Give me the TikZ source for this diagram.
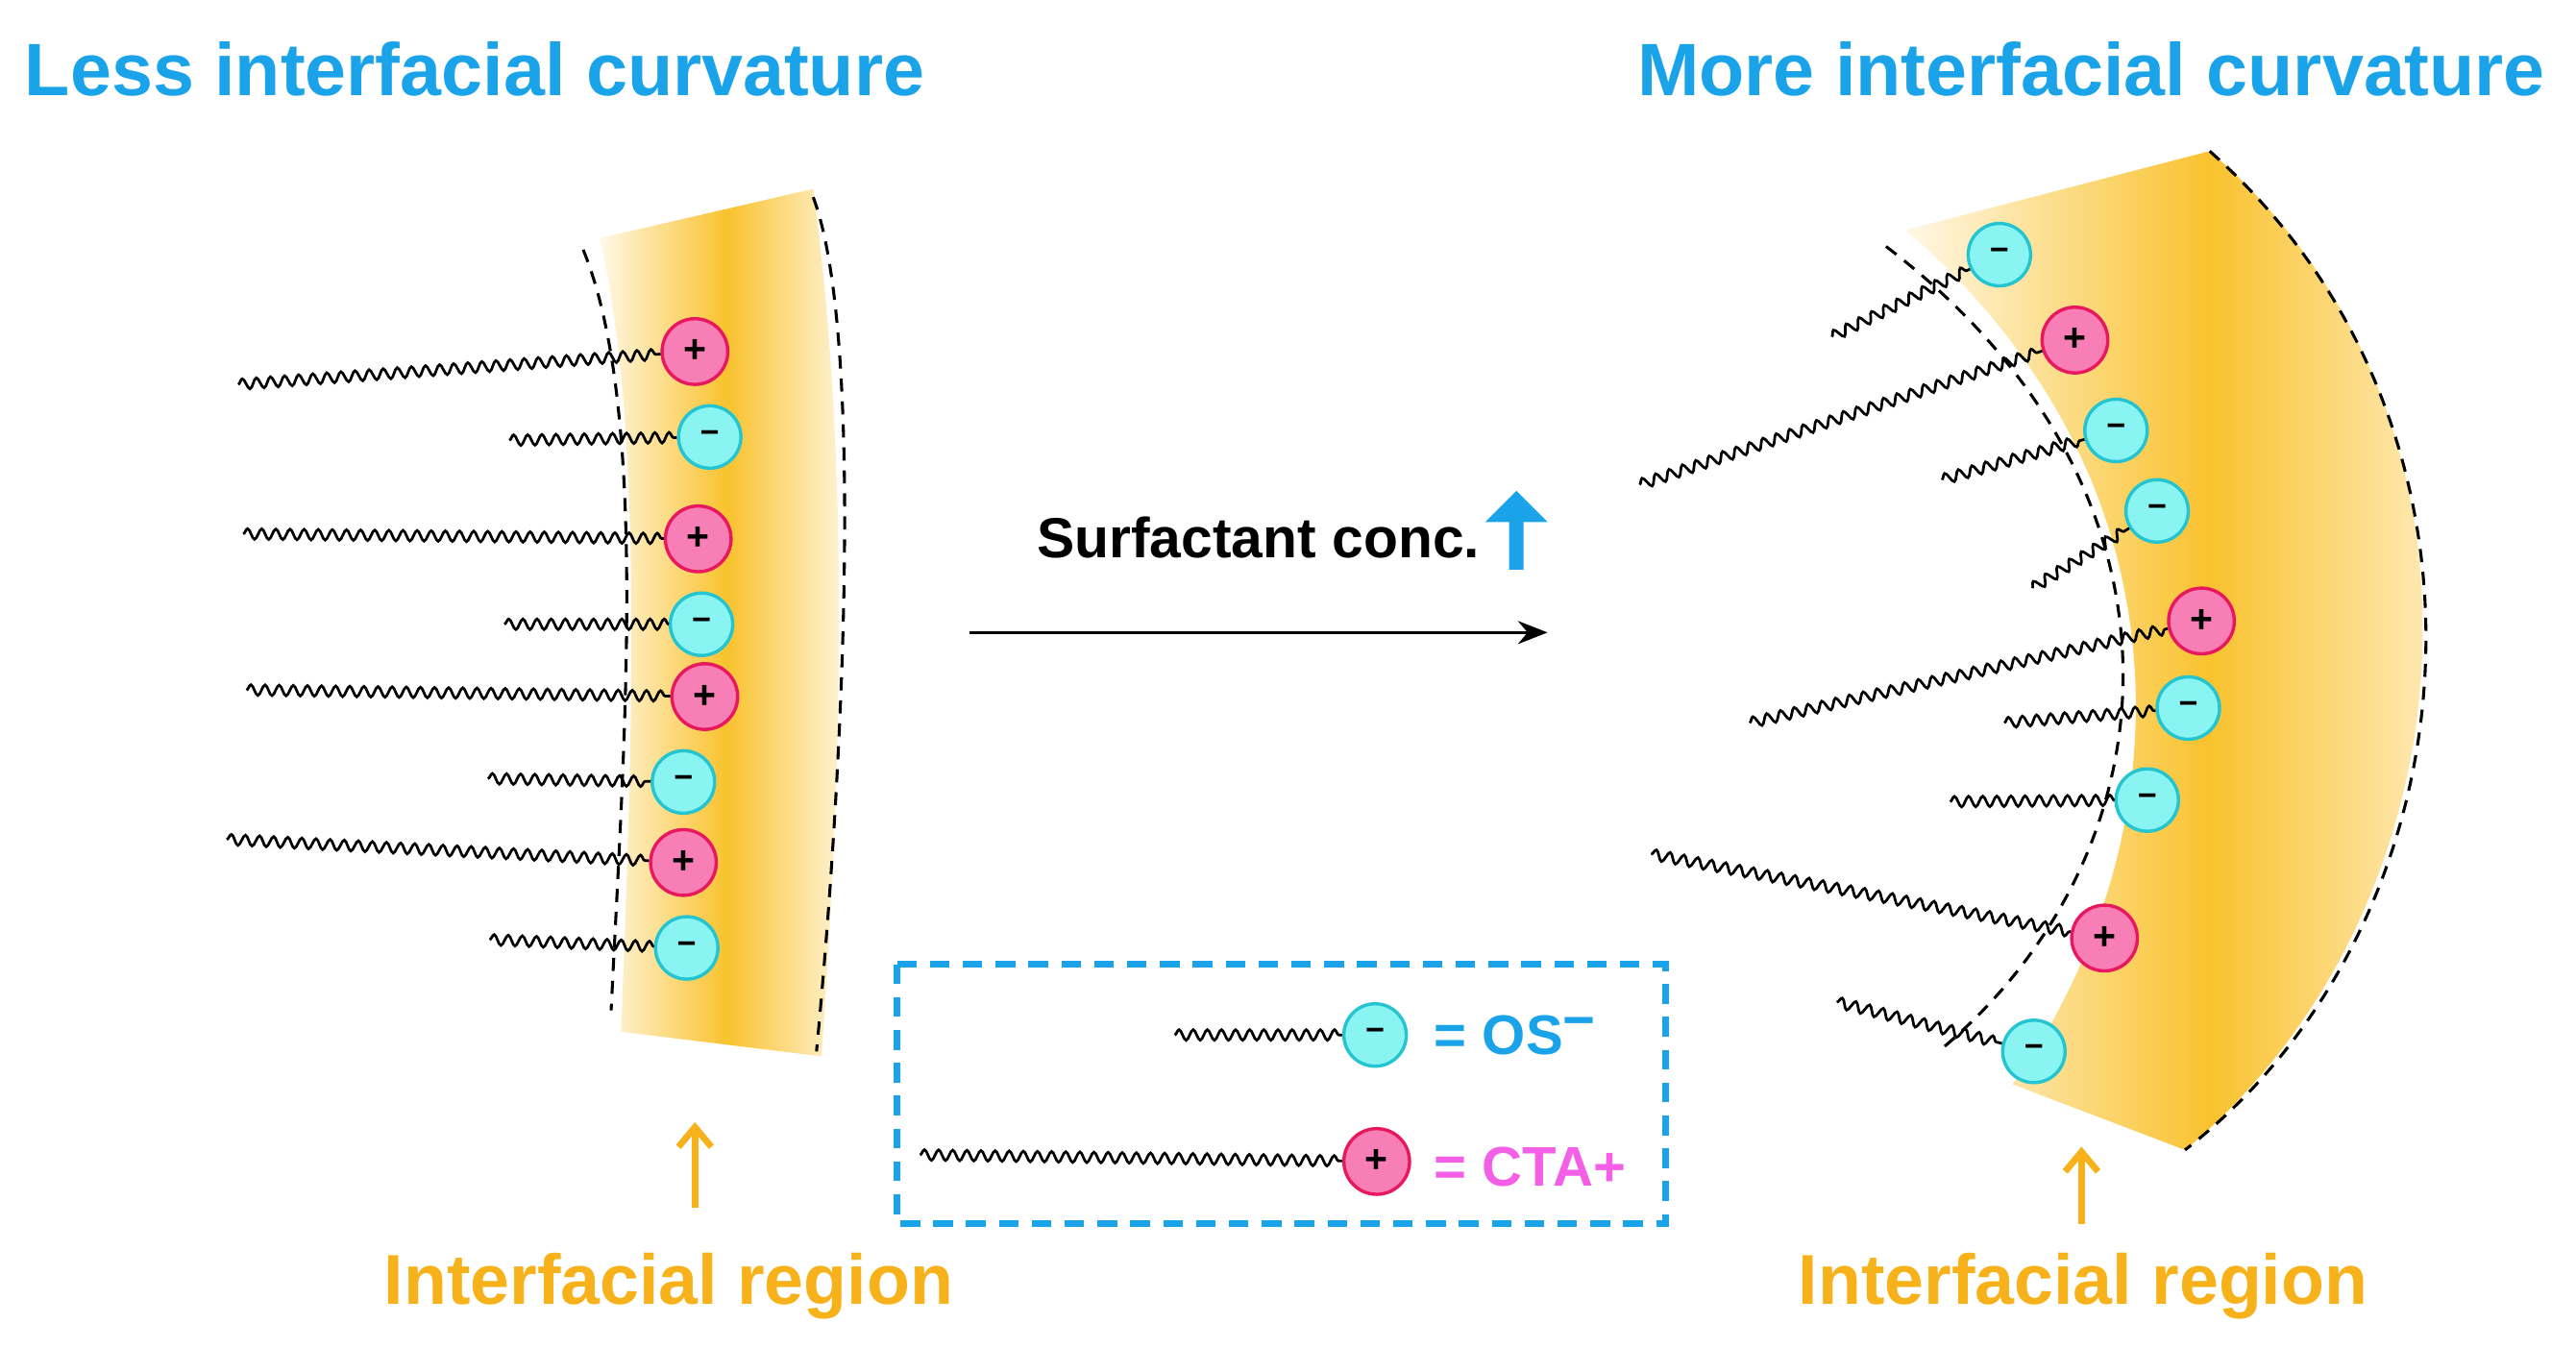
\documentclass[tikz,border=0pt]{standalone}
\usepackage{fontspec}
\setmainfont{Liberation Sans}
\usetikzlibrary{decorations.pathmorphing,arrows.meta,shapes.arrows}
\definecolor{tblue}{HTML}{1AA3E8}
\definecolor{gold}{HTML}{F9C22E}
\definecolor{pale}{HTML}{FFF8E6}
\definecolor{torange}{HTML}{F7B21B}
\definecolor{pinkf}{HTML}{F77FB6}
\definecolor{pinkd}{HTML}{E8185F}
\definecolor{cyanf}{HTML}{8AF4F2}
\definecolor{cyand}{HTML}{24C4D0}
\definecolor{ctam}{HTML}{F45FE8}
\pgfdeclarehorizontalshading{band}{100bp}{color(0bp)=(pale); color(25bp)=(pale); color(50bp)=(gold); color(75bp)=(pale); color(100bp)=(pale)}
\begin{document}
\begin{tikzpicture}[x=0.5pt,y=-0.5pt,
 ionp/.style={circle,draw=pinkd,fill=pinkf,line width=1pt,minimum size=20pt,inner sep=0pt,font=\bfseries\large,text=black},
 ionn/.style={circle,draw=cyand,fill=cyanf,line width=1pt,minimum size=19pt,inner sep=0pt,font=\bfseries\large,text=black},
 tail/.style={decorate,decoration={snake,segment length=4.3pt,amplitude=1.6pt},line width=0.8pt},
 dsh/.style={line width=0.9pt,dash pattern=on 4pt off 3pt},
 title/.style={text=tblue,font=\bfseries\fontsize{22.6}{26}\selectfont},
 reg/.style={text=torange,font=\bfseries\fontsize{21.5}{25}\selectfont}]
\useasboundingbox (0,0) rectangle (1568,820);
% left band
\shade[shading=band]
 (365,145) -- (495,115) .. controls (520,300) and (510,500) .. (500,643)
 -- (378,628) .. controls (385,450) and (392,260) .. (365,145) -- cycle;
\draw[dsh] (355,152) .. controls (395,250) and (380,450) .. (372,615);
\draw[dsh] (495,120) .. controls (525,200) and (515,450) .. (497,640);
% right band
\shade[shading=band]
 (1160,140) -- (1345,92) .. controls (1530,250) and (1510,550) .. (1330,700)
 -- (1225,660) .. controls (1325,520) and (1345,300) .. (1160,140) -- cycle;
\draw[dsh] (1148,150) .. controls (1345,300) and (1325,520) .. (1180,640);
\draw[dsh] (1345,92) .. controls (1535,260) and (1510,560) .. (1330,700);
% ions with tails
\foreach \n/\t/\x/\y/\tx/\ty in {a/ionp/423/214/145/234, b/ionn/432/266/310/268, c/ionp/425/328/148/325, d/ionn/427/380/307/380, e/ionp/429/424/150/420, f/ionn/416/476/297/474, g/ionp/416/525/138/511, h/ionn/418/577/298/572,
 ra/ionn/1217/155/1115/205, rb/ionp/1263/207/998/295, rc/ionn/1288/262/1182/292, rd/ionn/1313/311/1237/358, re/ionp/1340/378/1065/440, rf/ionn/1332/431/1220/440, rg/ionn/1307/487/1187/488, rh/ionp/1281/571/1005/520, ri/ionn/1238/640/1118/610,
 la/ionn/837/630/715/630, lb/ionp/838/707/560/703}{
 \coordinate (t\n) at (\tx,\ty);
 \node[\t] (\n) at (\x,\y) {};
 \draw[tail] (t\n) -- (\n);
}
\foreach \n in {a,c,e,g,rb,re,rh,lb}{\node[font=\bfseries\large] at (\n) {+};}
\foreach \n in {b,d,f,h,ra,rc,rd,rf,rg,ri,la}{\node[font=\bfseries] at (\n) {−};}
% titles
\node[title] (t1) at (289,42) {Less interfacial curvature};
\node[title] (t2) at (1273,42) {More interfacial curvature};
% main arrow
\coordinate (m1) at (590,385); \coordinate (m2) at (942,385);
\draw[-{Stealth[length=9pt,width=7pt]},line width=1pt] (m1) -- (m2);
\node[font=\bfseries\fontsize{17.2}{20}\selectfont] (sc) at (766,327) {Surfactant conc.};
\node[single arrow,fill=tblue,draw=none,shape border rotate=90,minimum height=24pt,minimum width=19pt,single arrow head extend=4pt,inner sep=1pt] (ua) at (923,325) {};
% region labels
\node[reg] (r1) at (407,783) {Interfacial region};
\node[reg] (r2) at (1268,783) {Interfacial region};
\coordinate (o1) at (423,735); \coordinate (o1e) at (423,683);
\coordinate (o2) at (1267,745); \coordinate (o2e) at (1267,698);
\draw[torange,line width=2pt,-{Straight Barb[length=6pt,width=10pt]}] (o1) -- (o1e);
\draw[torange,line width=2pt,-{Straight Barb[length=6pt,width=10pt]}] (o2) -- (o2e);
% legend
\draw[tblue,line width=2pt,dash pattern=on 6pt off 4pt] (546,587) rectangle (1014,745);
\node[anchor=west,text=tblue,font=\bfseries\fontsize{17}{20}\selectfont] (os) at (866,630) {= OS\raisebox{0.5ex}{−}};
\node[anchor=west,text=ctam,font=\bfseries\fontsize{17}{20}\selectfont] (cta) at (866,710) {= CTA+};
\end{tikzpicture}
\end{document}
